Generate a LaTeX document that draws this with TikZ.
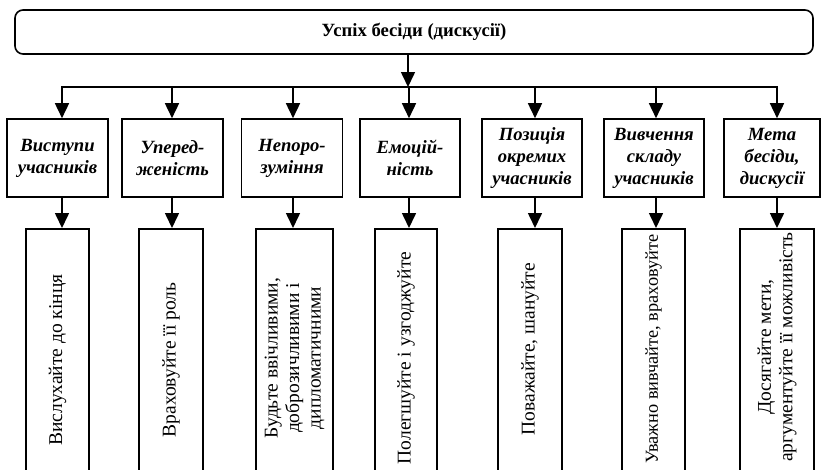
\documentclass[tikz,border=0pt]{standalone}
\usepackage{fontspec}
\setmainfont{Liberation Serif}
\usetikzlibrary{arrows.meta}
\begin{document}
\begin{tikzpicture}[x=1pt,y=-1pt,
  line width=1.6pt,
  topbox/.style={draw, rounded corners=8pt, minimum width=798pt, minimum height=44pt, inner sep=0pt,
    font=\fontsize{18.67}{21.5}\selectfont\bfseries},
  headbox/.style={draw, minimum height=78pt, inner sep=0pt, align=center,
    font=\fontsize{18.67}{22}\selectfont\bfseries\itshape},
  tipbox/.style={draw, minimum height=300pt, anchor=north, inner sep=0pt},
  tiptext/.style={rotate=90, align=center, inner sep=0pt,
    font=\fontsize{19.5}{21.5}\selectfont},
  arr/.style={-{Triangle[width=14pt,length=15pt]}}
]
\useasboundingbox (0,0) rectangle (821,469);
\clip (0,0) rectangle (821,469);

% top box
\node[topbox] (top) at (414,32) {Успіх бесіди (дискусії)};

% column / bar coordinates
\coordinate (stem) at (408,87);
\coordinate (c1) at (62,87);
\coordinate (c2) at (172,87);
\coordinate (c3) at (293,87);
\coordinate (c4) at (409,87);
\coordinate (c5) at (535,87);
\coordinate (c6) at (656,87);
\coordinate (c7) at (777,87);

% second row
\node[headbox, minimum width=101pt] (h1) at (57.5,158) {Виступи\\учасників};
\node[headbox, minimum width=101pt] (h2) at (172.5,158) {Уперед-\\женість};
\node[headbox, minimum width=101pt] (h3) at (292,158) {Непоро-\\зуміння};
\node[headbox, minimum width=100pt] (h4) at (410,158) {Емоцій-\\ність};
\node[headbox, minimum width=100pt] (h5) at (532,158) {Позиція\\окремих\\учасників};
\node[headbox, minimum width=100pt] (h6) at (654,158) {Вивчення\\складу\\учасників};
\node[headbox, minimum width=96pt] (h7) at (772,158) {Мета\\бесіди,\\дискусії};

% third row boxes
\node[tipbox, minimum width=63pt] (b1) at (57.5,228) {};
\node[tipbox, minimum width=64pt] (b2) at (171,228) {};
\node[tipbox, minimum width=77pt] (b3) at (294.5,228) {};
\node[tipbox, minimum width=62pt] (b4) at (406,228) {};
\node[tipbox, minimum width=64pt] (b5) at (530,228) {};
\node[tipbox, minimum width=63pt] (b6) at (653.5,228) {};
\node[tipbox, minimum width=74pt] (b7) at (777,228) {};

% third row texts
\node[tiptext] (t1) at (57.5,360) {Вислухайте до кінця};
\node[tiptext] (t2) at (171,360) {Враховуйте її роль};
\node[tiptext] (t3) at (294.5,358) {Будьте ввічливими,\\доброзичливими і\\дипломатичними};
\node[tiptext] (t4) at (406,358) {Полегшуйте і узгоджуйте};
\node[tiptext] (t5) at (530,349) {Поважайте, шануйте};
\node[tiptext, font=\fontsize{18.3}{21}\selectfont] (t6) at (653.5,349) {Уважно вивчайте, враховуйте};
\node[tiptext] (t7) at (777,347) {Досягайте мети,\\аргументуйте її можливість};

% connectors
\draw[arr] (stem |- top.south) -- (stem);
\draw[line cap=rect] (c1) -- (c7);
\foreach \i in {1,...,7}{
  \draw[arr] (c\i) -- (c\i |- h\i.north);
  \draw[arr] (c\i |- h\i.south) -- (c\i |- b\i.north);
}
\end{tikzpicture}
\end{document}
